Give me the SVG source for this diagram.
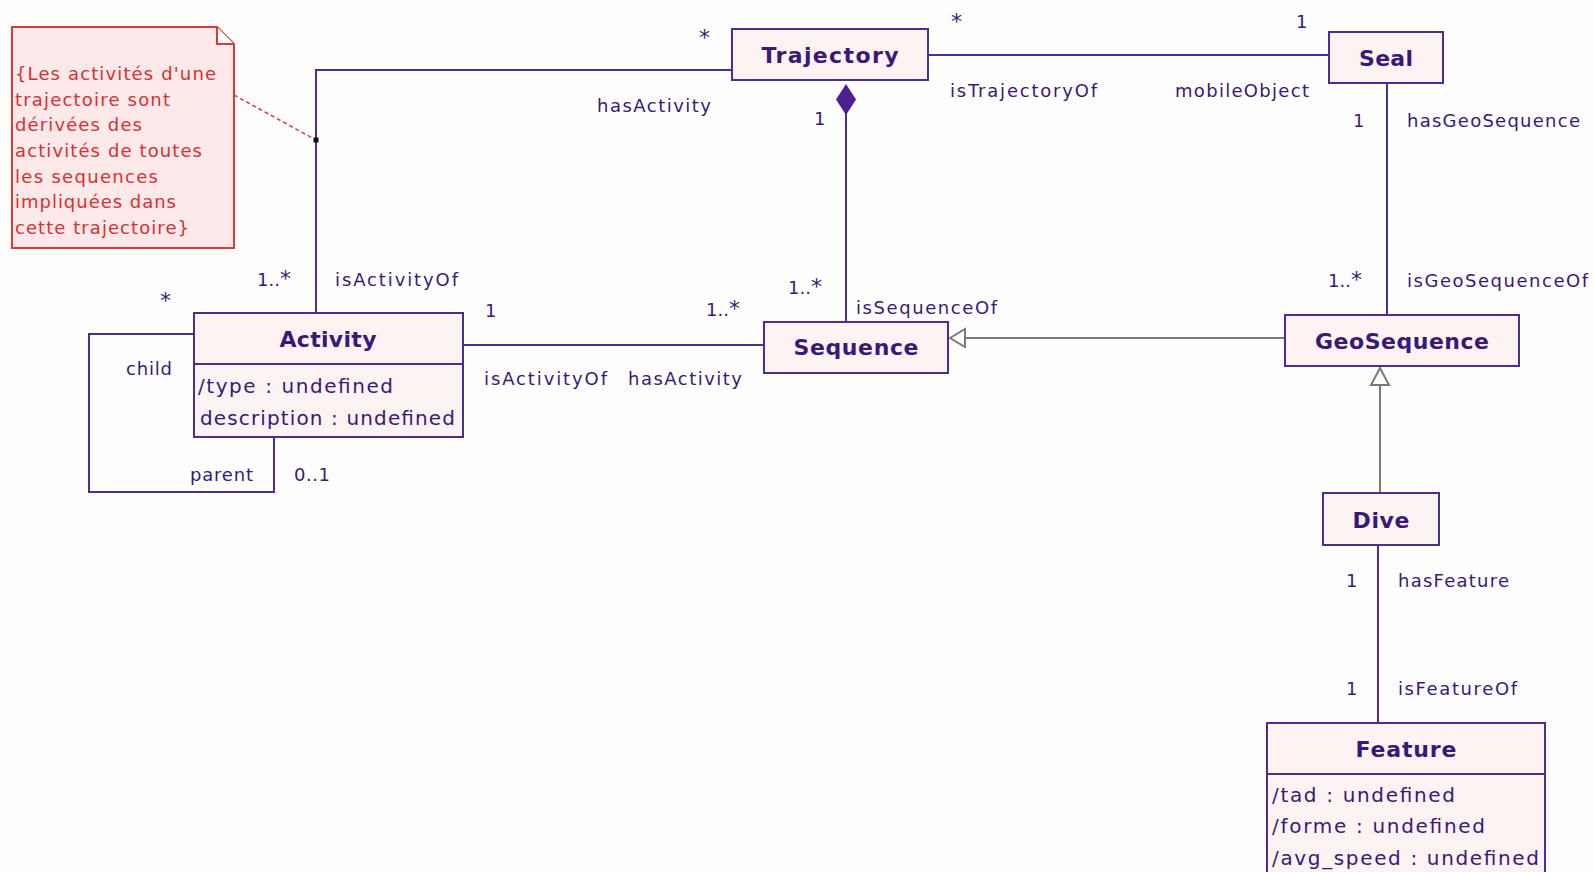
<svg xmlns="http://www.w3.org/2000/svg" width="1594" height="872" viewBox="0 0 1594 872">
  <style>
    .bg { fill: #fefefe; }
    .cls { fill: #fdf3f3; stroke: #4b2d93; stroke-width: 2; }
    .sep { stroke: #4b2d93; stroke-width: 2; }
    .assoc { fill: none; stroke: #4b2d93; stroke-width: 2; }
    .gen { fill: none; stroke: #7a7a7a; stroke-width: 2; }
    .name { font-family: "DejaVu Sans", Verdana, sans-serif; font-weight: bold; font-size: 22px; fill: #3b1878; text-anchor: middle; }
    .attr { font-family: "DejaVu Sans", Verdana, sans-serif; font-size: 20px; fill: #3b1878; }
    .lbl { font-family: "DejaVu Sans", Verdana, sans-serif; font-size: 18px; fill: #3b1878; }
    .star { font-family: "DejaVu Sans", Verdana, sans-serif; font-size: 22px; fill: #3b1878; }
    .note { fill: #fde9e9; stroke: #d93a3a; stroke-width: 2; }
    .notetxt { font-family: "DejaVu Sans", Verdana, sans-serif; font-size: 18px; fill: #d93030; }
    .anchor { fill: none; stroke: #d93a3a; stroke-width: 1.5; stroke-dasharray: 4 3; }
  </style>

  <rect class="bg" x="0" y="0" width="1594" height="872"/>

  <!-- connectors -->
  <g id="connectors">
    <!-- Trajectory to Activity -->
    <polyline class="assoc" points="732,70 316,70 316,313"/>
    <!-- Trajectory to Seal -->
    <line class="assoc" x1="928" y1="55" x2="1329" y2="55"/>
    <!-- Trajectory composition of Sequence -->
    <line class="assoc" x1="846" y1="113" x2="846" y2="322"/>
    <path d="M846,84 L856,99.5 L846,115 L836,99.5 Z" fill="#4b2090"/>
    <!-- Seal to GeoSequence -->
    <line class="assoc" x1="1387" y1="83" x2="1387" y2="315"/>
    <!-- Activity to Sequence -->
    <line class="assoc" x1="463" y1="345" x2="764" y2="345"/>
    <!-- Activity self loop (parent / child) -->
    <polyline class="assoc" points="194,334 89,334 89,492 274,492 274,437"/>
    <!-- GeoSequence generalizes to Sequence -->
    <line class="gen" x1="1285" y1="338" x2="965" y2="338"/>
    <path d="M950,338 L965,329 L965,347 Z" fill="#ffffff" stroke="#7a7a7a" stroke-width="2"/>
    <!-- Dive generalizes to GeoSequence -->
    <line class="gen" x1="1380" y1="493" x2="1380" y2="385"/>
    <path d="M1380,368 L1371,385 L1389,385 Z" fill="#ffffff" stroke="#7a7a7a" stroke-width="2"/>
    <!-- Dive to Feature -->
    <line class="assoc" x1="1378" y1="545" x2="1378" y2="723"/>
    <!-- note anchor -->
    <line class="anchor" x1="234" y1="95" x2="316" y2="140"/>
    <rect x="313.5" y="137.5" width="5" height="5" fill="#111111"/>
  </g>

  <!-- association labels -->
  <g id="labels">
    <text class="star" x="699" y="45">*</text>
    <text class="lbl" x="597" y="112" textLength="114" lengthAdjust="spacing">hasActivity</text>
    <text class="lbl" x="814" y="125">1</text>
    <text class="star" x="951" y="29">*</text>
    <text class="lbl" x="950" y="97" textLength="147" lengthAdjust="spacing">isTrajectoryOf</text>
    <text class="lbl" x="1296" y="28">1</text>
    <text class="lbl" x="1175" y="97" textLength="134" lengthAdjust="spacing">mobileObject</text>
    <text class="lbl" x="1353" y="127">1</text>
    <text class="lbl" x="1407" y="127" textLength="173" lengthAdjust="spacing">hasGeoSequence</text>
    <text class="lbl" x="1328" y="287">1..<tspan class="star">*</tspan></text>
    <text class="lbl" x="1407" y="287" textLength="181" lengthAdjust="spacing">isGeoSequenceOf</text>
    <text class="lbl" x="257" y="286">1..<tspan class="star">*</tspan></text>
    <text class="lbl" x="335" y="286" textLength="123" lengthAdjust="spacing">isActivityOf</text>
    <text class="star" x="160" y="308">*</text>
    <text class="lbl" x="485" y="317">1</text>
    <text class="lbl" x="706" y="316">1..<tspan class="star">*</tspan></text>
    <text class="lbl" x="788" y="294">1..<tspan class="star">*</tspan></text>
    <text class="lbl" x="856" y="314" textLength="141" lengthAdjust="spacing">isSequenceOf</text>
    <text class="lbl" x="484" y="385" textLength="123" lengthAdjust="spacing">isActivityOf</text>
    <text class="lbl" x="628" y="385" textLength="114" lengthAdjust="spacing">hasActivity</text>
    <text class="lbl" x="126" y="375" textLength="46" lengthAdjust="spacing">child</text>
    <text class="lbl" x="190" y="481" textLength="63" lengthAdjust="spacing">parent</text>
    <text class="lbl" x="294" y="481" textLength="36" lengthAdjust="spacing">0..1</text>
    <text class="lbl" x="1346" y="587">1</text>
    <text class="lbl" x="1398" y="587" textLength="111" lengthAdjust="spacing">hasFeature</text>
    <text class="lbl" x="1346" y="695">1</text>
    <text class="lbl" x="1398" y="695" textLength="119" lengthAdjust="spacing">isFeatureOf</text>
  </g>

  <!-- constraint note -->
  <g id="note">
    <path class="note" d="M12,27 L217,27 L234,44 L234,248 L12,248 Z"/>
    <path d="M217,27 L217,44 L234,44" fill="#ffffff" stroke="#d93a3a" stroke-width="2"/>
    <text class="notetxt" x="15" y="80" textLength="201" lengthAdjust="spacing">{Les activités d'une</text>
    <text class="notetxt" x="15" y="105.7" textLength="155" lengthAdjust="spacing">trajectoire sont</text>
    <text class="notetxt" x="15" y="131.3" textLength="127" lengthAdjust="spacing">dérivées des</text>
    <text class="notetxt" x="15" y="157" textLength="187" lengthAdjust="spacing">activités de toutes</text>
    <text class="notetxt" x="15" y="182.7" textLength="143" lengthAdjust="spacing">les sequences</text>
    <text class="notetxt" x="15" y="208.3" textLength="161" lengthAdjust="spacing">impliquées dans</text>
    <text class="notetxt" x="15" y="234" textLength="174" lengthAdjust="spacing">cette trajectoire}</text>
  </g>

  <!-- classes -->
  <g id="Trajectory">
    <rect class="cls" x="732" y="29" width="196" height="51"/>
    <text class="name" x="830" y="63" textLength="137" lengthAdjust="spacing">Trajectory</text>
  </g>
  <g id="Seal">
    <rect class="cls" x="1329" y="32" width="114" height="51"/>
    <text class="name" x="1386" y="66" textLength="54" lengthAdjust="spacing">Seal</text>
  </g>
  <g id="Activity">
    <rect class="cls" x="194" y="313" width="269" height="124"/>
    <line class="sep" x1="194" y1="364" x2="463" y2="364"/>
    <text class="name" x="328" y="347" textLength="97" lengthAdjust="spacing">Activity</text>
    <text class="attr" x="198" y="393" textLength="195" lengthAdjust="spacing">/type : undefined</text>
    <text class="attr" x="200" y="425" textLength="255" lengthAdjust="spacing">description : undefined</text>
  </g>
  <g id="Sequence">
    <rect class="cls" x="764" y="322" width="184" height="51"/>
    <text class="name" x="856" y="355" textLength="125" lengthAdjust="spacing">Sequence</text>
  </g>
  <g id="GeoSequence">
    <rect class="cls" x="1285" y="315" width="234" height="51"/>
    <text class="name" x="1402" y="349" textLength="174" lengthAdjust="spacing">GeoSequence</text>
  </g>
  <g id="Dive">
    <rect class="cls" x="1323" y="493" width="116" height="52"/>
    <text class="name" x="1381" y="528" textLength="57" lengthAdjust="spacing">Dive</text>
  </g>
  <g id="Feature">
    <rect class="cls" x="1267" y="723" width="278" height="170"/>
    <line class="sep" x1="1267" y1="774" x2="1545" y2="774"/>
    <text class="name" x="1406" y="757" textLength="101" lengthAdjust="spacing">Feature</text>
    <text class="attr" x="1272" y="802" textLength="183" lengthAdjust="spacing">/tad : undefined</text>
    <text class="attr" x="1272" y="833" textLength="213" lengthAdjust="spacing">/forme : undefined</text>
    <text class="attr" x="1272" y="865" textLength="267" lengthAdjust="spacing">/avg_speed : undefined</text>
  </g>
</svg>
